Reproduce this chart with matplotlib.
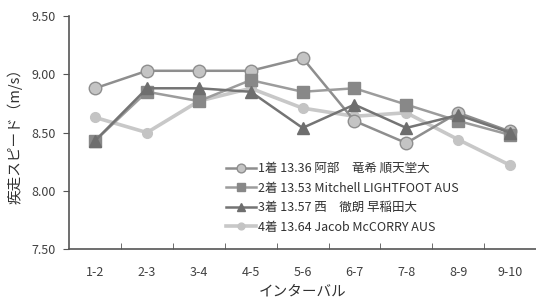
import matplotlib
matplotlib.use("Agg")
import matplotlib.pyplot as plt
import numpy as np

plt.rcParams['font.family'] = ['Noto Sans CJK JP', 'DejaVu Sans']

intervals = ['1-2', '2-3', '3-4', '4-5', '5-6', '6-7', '7-8', '8-9', '9-10']
labels = ['1着 13.36 阿部\u3000竜希 順天堂大',
          '2着 13.53 Mitchell LIGHTFOOT AUS',
          '3着 13.57 西\u3000徹朗 早稲田大',
          '4着 13.64 Jacob McCORRY AUS']
abe = [8.88, 9.03, 9.03, 9.03, 9.14, 8.60, 8.41, 8.67, 8.51]
lightfoot = [8.43, 8.85, 8.77, 8.95, 8.85, 8.88, 8.74, 8.60, 8.48]
nishi = [8.43, 8.88, 8.88, 8.85, 8.54, 8.74, 8.54, 8.65, 8.50]
mccorry = [8.63, 8.50, 8.77, 8.88, 8.71, 8.64, 8.67, 8.44, 8.22]

fig = plt.figure(figsize=(5.36, 3.02), dpi=100)
ax = fig.add_axes([0.129, 0.175, 0.871, 0.772])
x = np.arange(len(intervals))

ax.plot(x, abe, color='#8e8e8e', lw=1.8, marker='o', ms=9,
        mfc='#c4c4c4', mec='#8e8e8e', mew=1.0, label=labels[0], zorder=3)
ax.plot(x, lightfoot, color='#9c9c9c', lw=1.8, marker='s', ms=8,
        mfc='#888888', mec='#888888', label=labels[1], zorder=3)
ax.plot(x, nishi, color='#747474', lw=1.8, marker='^', ms=8,
        mfc='#6e6e6e', mec='#6e6e6e', label=labels[2], zorder=3)
ax.plot(x, mccorry, color='#c8c8c8', lw=2.6, marker='o', ms=7,
        mfc='#c4c4c4', mec='#c4c4c4', label=labels[3], zorder=2)

ax.set_xlim(-0.5, len(intervals) - 0.5)
ax.set_ylim(7.5, 9.5)
ax.set_yticks([7.5, 8.0, 8.5, 9.0, 9.5])
ax.set_yticklabels(['%.2f' % v for v in [7.5, 8.0, 8.5, 9.0, 9.5]], fontsize=9, color='#404040')
ax.set_xticks(x)
ax.set_xticklabels(intervals, fontsize=9, color='#404040')
ax.set_xticks(np.arange(0.5, len(intervals) - 0.5), minor=True)
ax.tick_params(axis='x', which='major', length=0, pad=12)
ax.tick_params(axis='x', which='minor', direction='in', length=4, color='#555555')
ax.tick_params(axis='y', direction='out', length=4, color='#555555', pad=6)

for s in ['top', 'right']:
    ax.spines[s].set_visible(False)
for s in ['left', 'bottom']:
    ax.spines[s].set_color('#555555')
    ax.spines[s].set_linewidth(1.2)

ax.set_xlabel('インターバル', fontsize=10.5, color='#303030', labelpad=4)
ax.set_ylabel('疾走スピード（m/s）', fontsize=10.5, color='#303030', labelpad=6)

leg = ax.legend(loc='upper left', bbox_to_anchor=(0.325, 0.395), frameon=False,
                fontsize=9, handlelength=2.4, handletextpad=0.2,
                labelspacing=0.52, borderaxespad=0, markerscale=0.7)
for t in leg.get_texts():
    t.set_color('#303030')

fig.savefig('out.png', dpi=100)
